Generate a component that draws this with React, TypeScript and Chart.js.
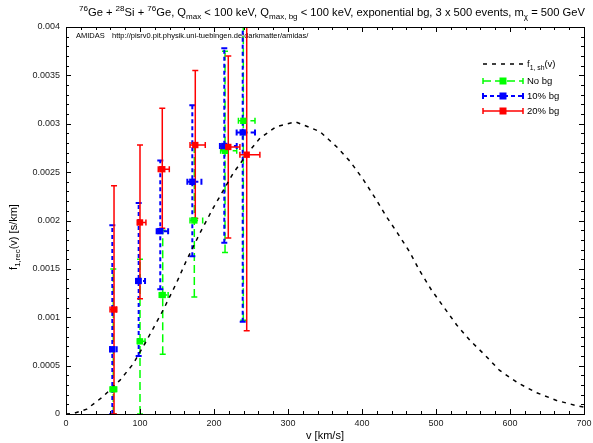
import React, { useEffect, useRef } from "react";
import { Chart, registerables } from "chart.js";

Chart.register(...registerables);

// ---- Data ----
const curveV = [0, 10, 28, 50, 73, 91, 109, 131, 149, 163, 181, 199, 226, 248, 262, 284, 310, 343, 366, 384, 402, 418, 433, 448, 464, 478, 494, 510, 528, 546, 566, 586, 611, 636, 663, 688, 700];
const curveF = [0, 0.000005, 0.00005, 0.00018, 0.00035, 0.00052, 0.00076, 0.00107, 0.00135, 0.00159, 0.00187, 0.00213, 0.00249, 0.00272, 0.00285, 0.00297, 0.00302, 0.00292, 0.00276, 0.00261, 0.00242, 0.00223, 0.00204, 0.00187, 0.00168, 0.00148, 0.00128, 0.00111, 0.00092, 0.00076, 0.00061, 0.00045, 0.00032, 0.00022, 0.00014, 0.00009, 0.00007];

const noBgV = [63.9, 100, 130.7, 173.4, 214.9, 239.6];
const noBgVLow = [59.5, 96.4, 126, 167.6, 209, 233];
const noBgVHigh = [68.5, 106.8, 138, 184.7, 230.7, 255.4];
const noBgF = [0.000255, 0.000751, 0.00123, 0.002, 0.00272, 0.00303];
const noBgFLow = [0, 0, 0.000617, 0.00121, 0.00167, 0.00097];
const noBgFHigh = [0.0015, 0.0016, 0.0019, 0.0028, 0.00375, 0.0045];

const bg10V = [62.6, 98.2, 127.4, 170.7, 213.9, 238.8];
const bg10VLow = [59.5, 94.6, 122.5, 164, 208, 230.6];
const bg10VHigh = [68.5, 106.8, 138, 183, 230.7, 255.4];
const bg10F = [0.000669, 0.001375, 0.00189, 0.0024, 0.00277, 0.00291];
const bg10FLow = [0, 0.0006, 0.00129, 0.00163, 0.00177, 0.000954];
const bg10FHigh = [0.00195, 0.00218, 0.00262, 0.00319, 0.00378, 0.0045];

const bg20V = [64.9, 100, 130.1, 174.7, 219.3, 244.2];
const bg20VLow = [59.5, 96.4, 124.7, 167.6, 210.4, 235];
const bg20VHigh = [68.5, 108, 139.6, 188.2, 235, 262];
const bg20F = [0.00108, 0.00198, 0.00253, 0.00278, 0.00276, 0.00268];
const bg20FLow = [0, 0.00119, 0.00192, 0.00202, 0.00182, 0.00086];
const bg20FHigh = [0.00236, 0.00278, 0.00316, 0.00355, 0.0037, 0.0045];

const FONT = '"Liberation Sans", Arial, sans-serif';
const GREEN = "#00ff00";
const BLUE = "#0000ff";
const RED = "#ff0000";

type Part = { t: string; s?: "sub" | "sup" };

function drawRich(ctx: CanvasRenderingContext2D, parts: Part[], x: number, y: number, size: number, align: "left" | "center") {
  const small = size * 0.72;
  const widths = parts.map((p) => {
    ctx.font = `${p.s ? small : size}px ${FONT}`;
    return ctx.measureText(p.t).width;
  });
  const total = widths.reduce((a, b) => a + b, 0);
  let cx = align === "center" ? x - total / 2 : x;
  ctx.textAlign = "left";
  ctx.textBaseline = "alphabetic";
  parts.forEach((p, i) => {
    ctx.font = `${p.s ? small : size}px ${FONT}`;
    const dy = p.s === "sup" ? -size * 0.42 : p.s === "sub" ? size * 0.3 : 0;
    ctx.fillText(p.t, cx, y + dy);
    cx += widths[i];
  });
}

type Series = {
  v: number[]; vl: number[]; vh: number[]; f: number[]; fl: number[]; fh: number[];
  color: string; dash: number[]; width: number;
};

const seriesList: Series[] = [
  { v: noBgV, vl: noBgVLow, vh: noBgVHigh, f: noBgF, fl: noBgFLow, fh: noBgFHigh, color: GREEN, dash: [8, 4], width: 1.5 },
  { v: bg10V, vl: bg10VLow, vh: bg10VHigh, f: bg10F, fl: bg10FLow, fh: bg10FHigh, color: BLUE, dash: [4, 3], width: 2 },
  { v: bg20V, vl: bg20VLow, vh: bg20VHigh, f: bg20F, fl: bg20FLow, fh: bg20FHigh, color: RED, dash: [], width: 1.5 },
];

const customPlugin = {
  id: "custom",
  beforeDatasetsDraw(chart: any) {
    const { ctx, chartArea: a, scales } = chart;
    const x = scales.x, y = scales.y;
    ctx.save();
    ctx.fillStyle = "#000";
    ctx.font = `7.5px ${FONT}`;
    ctx.textBaseline = "middle";
    ctx.textAlign = "left";
    ctx.fillText("AMIDAS", 76, 35.5);
    ctx.fillText("http://pisrv0.pit.physik.uni-tuebingen.de/darkmatter/amidas/", 112, 35.5);
    ctx.restore();

    ctx.save();
    ctx.beginPath();
    ctx.rect(a.left, a.top, a.right - a.left, a.bottom - a.top);
    ctx.clip();
    for (const s of seriesList) {
      ctx.strokeStyle = s.color;
      ctx.lineWidth = s.width;
      for (let i = 0; i < s.v.length; i++) {
        const px = x.getPixelForValue(s.v[i]);
        const py = y.getPixelForValue(s.f[i]);
        const pyl = y.getPixelForValue(s.fl[i]);
        const pyh = y.getPixelForValue(s.fh[i]);
        const pxl = x.getPixelForValue(s.vl[i]);
        const pxh = x.getPixelForValue(s.vh[i]);
        ctx.setLineDash(s.dash);
        ctx.beginPath();
        ctx.moveTo(px, pyl);
        ctx.lineTo(px, pyh);
        ctx.moveTo(pxl, py);
        ctx.lineTo(pxh, py);
        ctx.stroke();
        ctx.setLineDash([]);
        ctx.beginPath();
        ctx.moveTo(px - 3, pyl); ctx.lineTo(px + 3, pyl);
        ctx.moveTo(px - 3, pyh); ctx.lineTo(px + 3, pyh);
        ctx.moveTo(pxl, py - 3); ctx.lineTo(pxl, py + 3);
        ctx.moveTo(pxh, py - 3); ctx.lineTo(pxh, py + 3);
        ctx.stroke();
      }
    }
    ctx.restore();
  },
  afterDraw(chart: any) {
    const { ctx, chartArea: a, scales } = chart;
    const x = scales.x, y = scales.y;
    ctx.save();
    // ticks
    ctx.strokeStyle = "#000";
    ctx.lineWidth = 1;
    ctx.beginPath();
    for (let v = 0; v <= 700; v += 20) {
      const px = Math.round(x.getPixelForValue(v)) + 0.5;
      const len = v % 100 === 0 ? 5 : 3;
      ctx.moveTo(px, a.bottom); ctx.lineTo(px, a.bottom - len);
      ctx.moveTo(px, a.top); ctx.lineTo(px, a.top + len);
    }
    for (let i = 0; i <= 40; i++) {
      const py = Math.round(y.getPixelForValue(i * 0.0001)) + 0.5;
      const len = i % 5 === 0 ? 5 : 3;
      ctx.moveTo(a.left, py); ctx.lineTo(a.left + len, py);
      ctx.moveTo(a.right, py); ctx.lineTo(a.right - len, py);
    }
    ctx.stroke();
    ctx.strokeRect(Math.round(a.left) + 0.5, Math.round(a.top) + 0.5, Math.round(a.right - a.left), Math.round(a.bottom - a.top));

    // title
    ctx.fillStyle = "#000";
    drawRich(ctx, [
      { t: "76", s: "sup" }, { t: "Ge + " }, { t: "28", s: "sup" }, { t: "Si + " }, { t: "76", s: "sup" },
      { t: "Ge, Q" }, { t: "max", s: "sub" }, { t: " < 100 keV, Q" }, { t: "max, bg", s: "sub" },
      { t: " < 100 keV, exponential bg, 3 x 500 events, m" }, { t: "χ", s: "sub" }, { t: " = 500 GeV" },
    ], 332, 16, 11.2, "center");

    // x title
    ctx.font = `11px ${FONT}`;
    ctx.textAlign = "center";
    ctx.textBaseline = "middle";
    ctx.fillText("v [km/s]", 325, 436);

    // y title
    ctx.save();
    ctx.translate(13, 237);
    ctx.rotate(-Math.PI / 2);
    const yparts: Part[] = [{ t: "f" }, { t: "1,rec", s: "sub" }, { t: "(v) [s/km]" }];
    drawRich(ctx, yparts, 0, 4, 11, "center");
    ctx.restore();

    // legend
    const lx0 = 483, lx1 = 523, tx = 527;
    const rows = [64, 81, 96, 111];
    ctx.strokeStyle = "#000";
    ctx.lineWidth = 1.5;
    ctx.setLineDash([4, 5]);
    ctx.beginPath();
    ctx.moveTo(lx0, rows[0]); ctx.lineTo(lx1, rows[0]);
    ctx.stroke();
    ctx.setLineDash([]);
    ctx.fillStyle = "#000";
    drawRich(ctx, [{ t: "f" }, { t: "1, sh", s: "sub" }, { t: "(v)" }], tx, rows[0] + 3, 9.5, "left");
    const labels = ["No bg", "10% bg", "20% bg"];
    seriesList.forEach((s, i) => {
      const ry = rows[i + 1];
      ctx.strokeStyle = s.color;
      ctx.lineWidth = s.width;
      ctx.setLineDash(s.dash);
      ctx.beginPath();
      ctx.moveTo(lx0, ry); ctx.lineTo(lx1, ry);
      ctx.stroke();
      ctx.setLineDash([]);
      ctx.beginPath();
      ctx.moveTo(lx0, ry - 3); ctx.lineTo(lx0, ry + 3);
      ctx.moveTo(lx1, ry - 3); ctx.lineTo(lx1, ry + 3);
      ctx.stroke();
      ctx.fillStyle = s.color;
      ctx.fillRect(503 - 3.5, ry - 3.5, 7, 7);
      ctx.fillStyle = "#000";
      ctx.font = `9.5px ${FONT}`;
      ctx.textAlign = "left";
      ctx.textBaseline = "middle";
      ctx.fillText(labels[i], tx, ry);
    });
    ctx.restore();
  },
};

function pts(v: number[], f: number[]) {
  return v.map((vv, i) => ({ x: vv, y: f[i] }));
}

export default function App() {
  const ref = useRef<HTMLCanvasElement | null>(null);
  useEffect(() => {
    if (!ref.current) return;
    const chart = new Chart(ref.current, {
      type: "scatter",
      data: {
        datasets: [
          { label: "20% bg", data: pts(bg20V, bg20F), backgroundColor: RED, borderColor: RED, pointStyle: "rect", pointRadius: 4.5, borderWidth: 0, order: 0 },
          { label: "10% bg", data: pts(bg10V, bg10F), backgroundColor: BLUE, borderColor: BLUE, pointStyle: "rect", pointRadius: 4.5, borderWidth: 0, order: 1 },
          { label: "No bg", data: pts(noBgV, noBgF), backgroundColor: GREEN, borderColor: GREEN, pointStyle: "rect", pointRadius: 4.5, borderWidth: 0, order: 2 },
          { label: "f1,sh(v)", data: pts(curveV, curveF), showLine: true, borderColor: "#000", borderWidth: 1.5, borderDash: [4, 5], pointRadius: 0, fill: false, order: 3 } as any,
        ],
      },
      options: {
        animation: false,
        responsive: false,
        events: [],
        layout: { padding: { top: 27, right: 9, left: 0, bottom: 0 } },
        plugins: { legend: { display: false }, tooltip: { enabled: false }, title: { display: false } },
        scales: {
          x: {
            type: "linear", min: 0, max: 700,
            grid: { display: false, drawTicks: false },
            border: { display: false },
            ticks: { stepSize: 100, color: "#222", font: { size: 9, family: FONT }, padding: 4, maxRotation: 0 },
            afterFit(s: any) { s.height = 29; s.paddingLeft = 0; s.paddingRight = 0; },
          },
          y: {
            type: "linear", min: 0, max: 0.004,
            grid: { display: false, drawTicks: false },
            border: { display: false },
            ticks: {
              stepSize: 0.0005, color: "#222", font: { size: 9, family: FONT }, padding: 6,
              callback: (v: any) => String(Number(Number(v).toFixed(4))),
            },
            afterFit(s: any) { s.width = 66; s.paddingTop = 0; s.paddingBottom = 0; },
          },
        },
      } as any,
      plugins: [customPlugin],
    });
    return () => chart.destroy();
  }, []);
  return (
    <div style={{ position: "fixed", left: 0, top: 0, width: 593, height: 443, background: "#fff" }}>
      <canvas ref={ref} width={593} height={443} />
    </div>
  );
}
